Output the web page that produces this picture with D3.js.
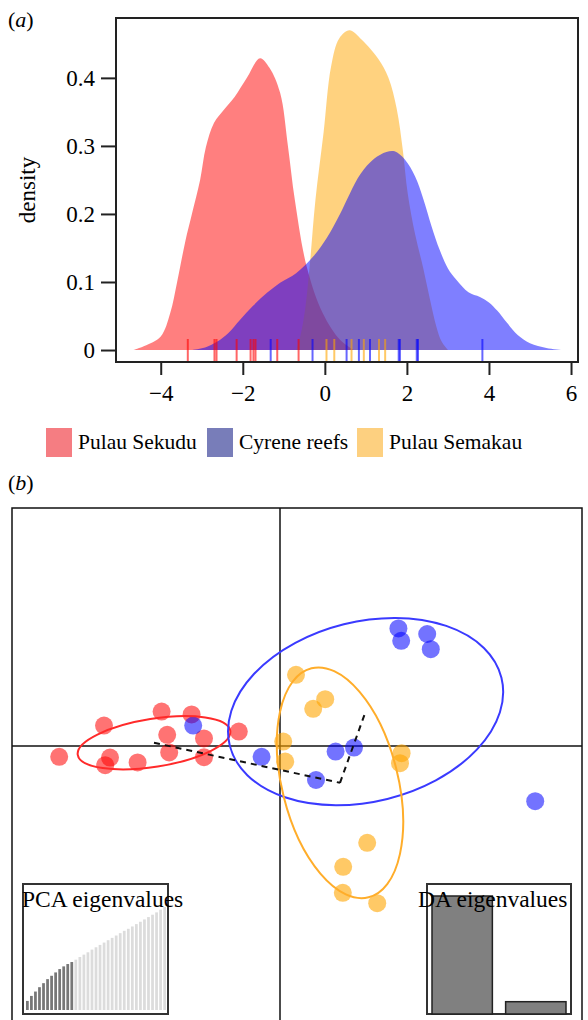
<!DOCTYPE html>
<html>
<head>
<meta charset="utf-8">
<script src="https://cdn.jsdelivr.net/npm/d3@7"></script>
<style>
body { margin: 0; background: #fff; }
svg { display: block; font-family: 'Liberation Serif', 'Times New Roman', serif; }
</style>
</head>
<body>
<svg id="chart" width="588" height="1020"></svg>
<script>
// Groups, in legend order.
const groups = ['Pulau Sekudu', 'Cyrene reefs', 'Pulau Semakau'];
const curveColors = ['#ff0000', '#0000ff', '#ffa500'];
const legendColors = ['#f57d82', '#787db9', '#fdd080'];

// (a) density of the first discriminant function, [value, density].
const sekuduDensity = [[-4.67, 0], [-4.4, 0.006], [-4.0, 0.02], [-3.77, 0.054], [-3.6, 0.1], [-3.4, 0.16],
    [-3.24, 0.2], [-3.04, 0.25], [-2.9, 0.298], [-2.7, 0.334], [-2.45, 0.354], [-2.2, 0.372], [-1.9, 0.4],
    [-1.58, 0.429], [-1.35, 0.415], [-1.09, 0.378], [-0.9, 0.3], [-0.73, 0.22], [-0.44, 0.122], [-0.05, 0.054],
    [0.37, 0.015], [0.7, 0]];
const cyreneDensity = [[-3.24, 0], [-2.9, 0.004], [-2.63, 0.012], [-2.35, 0.025], [-2.07, 0.044], [-1.75, 0.065],
    [-1.41, 0.084], [-1.09, 0.099], [-0.7, 0.113], [-0.29, 0.137], [0.05, 0.165], [0.37, 0.2], [0.86, 0.258],
    [1.2, 0.281], [1.5, 0.291], [1.7, 0.292], [1.95, 0.28], [2.2, 0.255], [2.4, 0.222], [2.6, 0.182], [2.8, 0.147],
    [3.0, 0.12], [3.21, 0.103], [3.5, 0.085], [3.78, 0.078], [4.0, 0.07], [4.2, 0.058], [4.44, 0.04], [4.7, 0.022],
    [5.0, 0.01], [5.4, 0.003], [5.8, 0]];
const semakauDensity = [[-0.7, 0], [-0.6, 0.02], [-0.48, 0.06], [-0.36, 0.13], [-0.23, 0.22], [-0.03, 0.32],
    [0.15, 0.416], [0.35, 0.458], [0.6, 0.47], [0.9, 0.456], [1.3, 0.428], [1.55, 0.4], [1.75, 0.355], [1.9, 0.294],
    [2.02, 0.23], [2.2, 0.17], [2.4, 0.12], [2.56, 0.075], [2.72, 0.034], [2.85, 0.012], [3.0, 0]];

// Rug of individual scores.
const sekuduRug = [-3.34, -2.69, -2.64, -2.15, -1.81, -1.74, -1.69, -1.16, -0.64];
const cyreneRug = [-1.32, -0.30, 0.53, 0.83, 1.10, 1.80, 1.83, 2.24, 2.27, 3.84];
const semakauRug = [0.04, 0.23, 0.65, 0.95, 1.32, 1.47];

const xTicks = [-4, -2, 0, 2, 4, 6];
const yTicks = [0, 0.1, 0.2, 0.3, 0.4];

// (b) DA scatter, [LD1, LD2].
const sekuduPoints = [[-5.52, -0.27], [-4.40, 0.51], [-2.96, 0.86], [-2.21, 0.79], [-2.82, 0.28], [-1.90, 0.19],
    [-1.03, 0.36], [-4.25, -0.29], [-4.37, -0.48], [-3.56, -0.41], [-2.77, -0.16], [-1.90, -0.28]];
const cyrenePoints = [[-2.17, 0.51], [-0.46, -0.27], [2.96, 2.94], [3.03, 2.63], [3.68, 2.80], [3.77, 2.42],
    [1.39, -0.14], [1.85, -0.04], [0.90, -0.85], [6.38, -1.38]];
const semakauPoints = [[0.40, 1.78], [1.13, 1.17], [0.83, 0.93], [0.08, 0.11], [0.13, -0.39], [3.04, -0.18],
    [3.00, -0.43], [2.18, -2.42], [1.58, -3.02], [1.57, -3.67], [2.43, -3.93]];

// Inertia ellipses: [cx, cy, rx, ry, angle in degrees].
const sekuduEllipse = [-3.15, 0.08, 1.93, 0.6, 9];
const cyreneEllipse = [2.14, 0.86, 3.5, 2.25, 14];
const semakauEllipse = [1.5, -0.92, 1.45, 2.95, 14];

// Minimum spanning tree between group centres (group indices).
const mstLinks = [[0, 2], [2, 1]];

// Insets.
const pcaEig = [27, 42, 55, 68, 80, 92, 102, 112, 122, 130, 137, 143,
    150, 158, 165, 172, 180, 187, 194, 201, 208, 215, 222, 229, 236, 242, 249, 256, 263, 270, 277, 284, 291, 299, 307];
const pcaRetained = 12;
const daEig = [118, 12.3];

let svg = d3.select('#chart');

// ---------- (a) density plot ----------
let plotA = {left: 116, right: 578, top: 18, bottom: 362};
let x = d3.scaleLinear().domain([-5.09, 6.17]).range([plotA.left, plotA.right]);
let y = d3.scaleLinear().domain([-0.0176, 0.488]).range([plotA.bottom, plotA.top]);

svg.append('text')
    .attr('x', 8).attr('y', 27)
    .style('font-size', '22px')
    .html('(<tspan font-style="italic">a</tspan>)');

let area = d3.area()
    .x(d => x(d[0]))
    .y0(y(0))
    .y1(d => Math.min(y(d[1]), y(0)))
    .curve(d3.curveCatmullRom.alpha(0.5));

// Draw order: Sekudu, Semakau, then Cyrene on top.
[[sekuduDensity, 0], [semakauDensity, 2], [cyreneDensity, 1]].forEach(([data, g]) => {
    svg.append('path')
        .datum(data)
        .attr('d', area)
        .attr('fill', curveColors[g])
        .attr('fill-opacity', 0.5);
});

// Rug marks.
[[sekuduRug, 0], [cyreneRug, 1], [semakauRug, 2]].forEach(([data, g]) => {
    svg.append('g').selectAll('line')
        .data(data)
      .enter().append('line')
        .attr('x1', d => x(d)).attr('x2', d => x(d))
        .attr('y1', plotA.bottom - 23).attr('y2', plotA.bottom)
        .attr('stroke', curveColors[g])
        .attr('stroke-opacity', 0.6)
        .attr('stroke-width', 2);
});

// Box.
svg.append('rect')
    .attr('x', plotA.left).attr('y', plotA.top)
    .attr('width', plotA.right - plotA.left).attr('height', plotA.bottom - plotA.top)
    .attr('fill', 'none').attr('stroke', '#222').attr('stroke-width', 2);

let yAxis = svg.append('g')
    .attr('transform', `translate(${plotA.left},0)`)
    .call(d3.axisLeft(y).tickValues(yTicks).tickSize(15).tickPadding(6)
        .tickFormat(d => d === 0 ? '0' : d3.format('.1f')(d)));
let xAxis = svg.append('g')
    .attr('transform', `translate(0,${plotA.bottom})`)
    .call(d3.axisBottom(x).tickValues(xTicks).tickSize(13).tickPadding(10));

[yAxis, xAxis].forEach(ax => {
    ax.attr('font-family', null);
    ax.select('.domain').remove();
    ax.selectAll('line').attr('stroke', '#222').attr('stroke-width', 2);
    ax.selectAll('text')
        .attr('fill', '#000')
        .style('font-family', "'Liberation Serif', serif")
        .style('font-size', '23px');
});

svg.append('text')
    .attr('transform', 'translate(35,190) rotate(-90)')
    .attr('text-anchor', 'middle')
    .style('font-size', '23px')
    .text('density');

// Legend.
let legendX = [46, 207, 357];
let legend = svg.append('g').selectAll('g')
    .data(groups)
  .enter().append('g')
    .attr('transform', (d, i) => `translate(${legendX[i]},428)`);
legend.append('rect')
    .attr('width', 26).attr('height', 29)
    .attr('fill', (d, i) => legendColors[i]);
legend.append('text')
    .attr('x', 32).attr('y', 21)
    .style('font-size', '21.5px')
    .text(d => d);

// ---------- (b) DA scatter ----------
svg.append('text')
    .attr('x', 8).attr('y', 490)
    .style('font-size', '22px')
    .html('(<tspan font-style="italic">b</tspan>)');

let plotB = {left: 12, right: 582, top: 508, bottom: 1030};
let bx = d3.scaleLinear().domain([-6.7, 7.55]).range([plotB.left, plotB.right]);
let by = d3.scaleLinear().domain([-7.1, 5.95]).range([plotB.bottom, plotB.top]);

svg.append('rect')
    .attr('x', plotB.left).attr('y', plotB.top)
    .attr('width', plotB.right - plotB.left).attr('height', plotB.bottom - plotB.top)
    .attr('fill', 'none').attr('stroke', '#111').attr('stroke-width', 1.5);
svg.append('line')
    .attr('x1', bx(0)).attr('x2', bx(0)).attr('y1', plotB.top).attr('y2', plotB.bottom)
    .attr('stroke', '#111').attr('stroke-width', 1.5);
svg.append('line')
    .attr('x1', plotB.left).attr('x2', plotB.right).attr('y1', by(0)).attr('y2', by(0))
    .attr('stroke', '#111').attr('stroke-width', 1.5);

let pointOpacity = [0.55, 0.55, 0.6];
[sekuduPoints, cyrenePoints, semakauPoints].forEach((data, g) => {
    svg.append('g').selectAll('circle')
        .data(data)
      .enter().append('circle')
        .attr('cx', d => bx(d[0]))
        .attr('cy', d => by(d[1]))
        .attr('r', 9)
        .attr('fill', curveColors[g])
        .attr('fill-opacity', pointOpacity[g]);
});

let ellipseStroke = ['#ff2a2a', '#3a3aff', '#ffad2a'];
let ellipseData = [sekuduEllipse, cyreneEllipse, semakauEllipse];
ellipseData.forEach((e, g) => {
    svg.append('ellipse')
        .attr('transform', `translate(${bx(e[0])},${by(e[1])}) rotate(${-e[4]})`)
        .attr('rx', bx(e[2]) - bx(0))
        .attr('ry', by(0) - by(e[3]))
        .attr('fill', 'none')
        .attr('stroke', ellipseStroke[g])
        .attr('stroke-width', 2);
});

// Dashed minimum spanning tree.
let line = d3.line().x(d => bx(d[0])).y(d => by(d[1]));
mstLinks.forEach(([a, b]) => {
    svg.append('path')
        .attr('d', line([ellipseData[a], ellipseData[b]]))
        .attr('fill', 'none')
        .attr('stroke', '#111')
        .attr('stroke-width', 2)
        .attr('stroke-dasharray', '6,5');
});

// PCA eigenvalues inset.
let pcaBox = {x: 23, y: 884, w: 145, h: 130};
svg.append('rect')
    .attr('x', pcaBox.x).attr('y', pcaBox.y).attr('width', pcaBox.w).attr('height', pcaBox.h)
    .attr('fill', '#fff').attr('stroke', '#333').attr('stroke-width', 2);
let px = d3.scaleBand().domain(d3.range(pcaEig.length)).range([26, 166]).paddingInner(0.32);
let py = d3.scaleLinear().domain([0, 307]).range([1010, 907]);
svg.append('g').selectAll('rect')
    .data(pcaEig)
  .enter().append('rect')
    .attr('x', (d, i) => px(i))
    .attr('y', d => py(d))
    .attr('width', px.bandwidth())
    .attr('height', d => py(0) - py(d))
    .attr('fill', (d, i) => i < pcaRetained ? '#777' : '#dcdcdc');
svg.append('text')
    .attr('x', 22).attr('y', 907)
    .style('font-size', '23.5px')
    .text('PCA eigenvalues');

// DA eigenvalues inset.
let daBox = {x: 427, y: 884, w: 144, h: 130};
svg.append('rect')
    .attr('x', daBox.x).attr('y', daBox.y).attr('width', daBox.w).attr('height', daBox.h)
    .attr('fill', '#fff').attr('stroke', '#333').attr('stroke-width', 2);
let dx = d3.scaleBand().domain(d3.range(daEig.length)).range([432, 566]).paddingInner(0.18);
let dy = d3.scaleLinear().domain([0, 118]).range([1014, 896]);
svg.append('g').selectAll('rect')
    .data(daEig)
  .enter().append('rect')
    .attr('x', (d, i) => dx(i))
    .attr('y', d => dy(d))
    .attr('width', dx.bandwidth())
    .attr('height', d => dy(0) - dy(d))
    .attr('fill', '#808080')
    .attr('stroke', '#222')
    .attr('stroke-width', 1.5);
svg.append('text')
    .attr('x', 418).attr('y', 907)
    .style('font-size', '23.5px')
    .text('DA eigenvalues');
</script>
</body>
</html>
